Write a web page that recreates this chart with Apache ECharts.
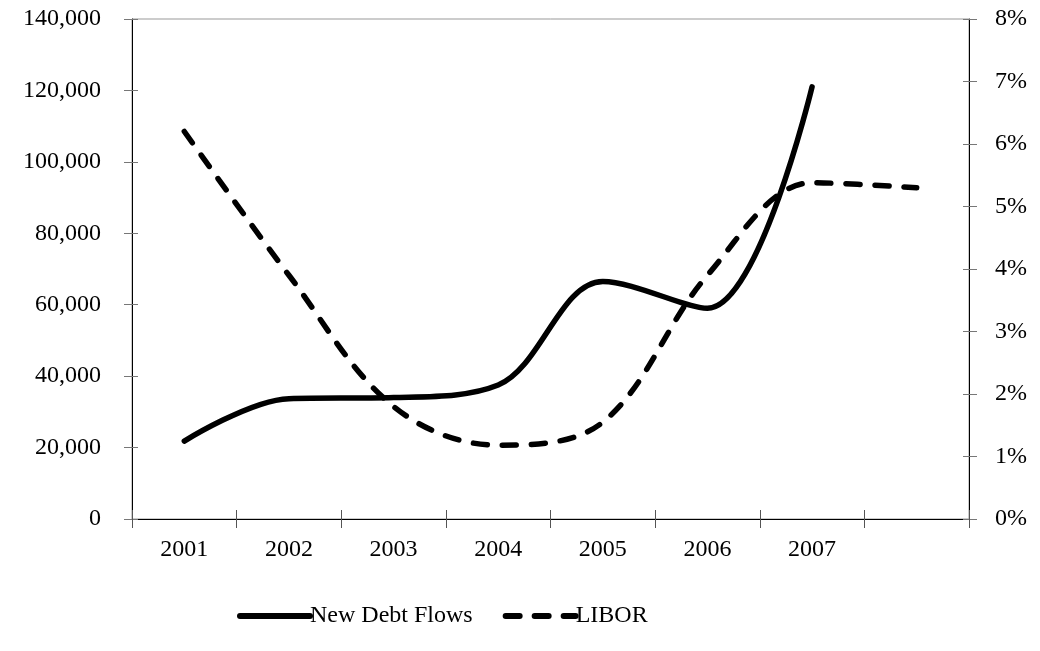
<!DOCTYPE html>
<html>
<head>
<meta charset="utf-8">
<script src="https://cdn.jsdelivr.net/npm/echarts@6/dist/echarts.min.js"></script>
<style>
html,body{margin:0;padding:0;background:#fff;}
#chart{width:1040px;height:651px;}
</style>
</head>
<body>
<div id="chart"></div>
<script>
var categories = ['2001', '2002', '2003', '2004', '2005', '2006', '2007', ''];
var newDebtFlows = [21800, 33700, 34000, 37500, 66500, 59000, 121000, null];
var libor = [6.2, 3.9, 1.8, 1.18, 1.55, 3.9, 5.38, 5.3];
var leftTicks = [0, 140000, 20000];
var rightTicks = [0, 8, 1];

var FONT = 'Liberation Serif';
var chart = echarts.init(document.getElementById('chart'), null, {renderer: 'canvas'});

function fmtThousands(v) {
  return String(v).replace(/\B(?=(\d{3})+(?!\d))/g, ',');
}

var axisLabelStyle = {color: '#000', fontFamily: FONT, fontSize: 24};

var option = {
  backgroundColor: '#fff',
  animation: false,
  grid: {
    left: 132, right: 71, top: 19, bottom: 132,
    show: true, borderColor: '#999', borderWidth: 1, backgroundColor: 'transparent'
  },
  legend: {
    left: 232, top: 599,
    itemWidth: 70, itemHeight: 14, itemGap: 30,
    itemStyle: {opacity: 0},
    lineStyle: {width: 6, cap: 'round'},
    textStyle: {color: '#000', fontFamily: FONT, fontSize: 24, padding: [0, 0, 0, -5]},
    data: ['New Debt Flows', 'LIBOR']
  },
  xAxis: [{
    type: 'category', data: categories, boundaryGap: true,
    axisLine: {show: true, lineStyle: {color: '#000', width: 1}},
    axisTick: {show: true, length: 9, lineStyle: {color: '#555'}},
    axisLabel: Object.assign({margin: 19, interval: 0}, axisLabelStyle),
    splitLine: {show: false}
  }, {
    type: 'category', data: categories, boundaryGap: true, position: 'bottom',
    axisLine: {show: false},
    axisTick: {show: true, inside: true, length: 9, lineStyle: {color: '#555'}},
    axisLabel: {show: false}, splitLine: {show: false}
  }],
  yAxis: [{
    type: 'value', min: leftTicks[0], max: leftTicks[1], interval: leftTicks[2], position: 'left',
    axisLine: {show: true, lineStyle: {color: '#000', width: 1}},
    axisTick: {show: true, length: 8, lineStyle: {color: '#777'}},
    axisLabel: Object.assign({margin: 31, formatter: fmtThousands}, axisLabelStyle),
    splitLine: {show: false}
  }, {
    type: 'value', min: rightTicks[0], max: rightTicks[1], interval: rightTicks[2], position: 'right',
    axisLine: {show: true, lineStyle: {color: '#000', width: 1}},
    axisTick: {show: true, length: 8, lineStyle: {color: '#777'}},
    axisLabel: Object.assign({margin: 26, formatter: function (v) { return v + '%'; }}, axisLabelStyle),
    splitLine: {show: false}
  }, {
    type: 'value', min: leftTicks[0], max: leftTicks[1], interval: leftTicks[2], position: 'left',
    axisLine: {show: false},
    axisTick: {show: true, inside: true, length: 6, lineStyle: {color: '#777'}},
    axisLabel: {show: false}, splitLine: {show: false}
  }, {
    type: 'value', min: rightTicks[0], max: rightTicks[1], interval: rightTicks[2], position: 'right',
    axisLine: {show: false},
    axisTick: {show: true, inside: true, length: 6, lineStyle: {color: '#777'}},
    axisLabel: {show: false}, splitLine: {show: false}
  }],
  series: [{
    name: 'New Debt Flows', type: 'line', xAxisIndex: 0, yAxisIndex: 0,
    data: newDebtFlows, smooth: 0.35, symbol: 'none', showSymbol: false,
    lineStyle: {color: '#000', width: 5.5, cap: 'round', join: 'round'},
    itemStyle: {color: '#000'}, z: 3
  }, {
    name: 'LIBOR', type: 'line', xAxisIndex: 0, yAxisIndex: 1,
    data: libor, smooth: 0.35, symbol: 'none', showSymbol: false,
    lineStyle: {color: '#000', width: 5.5, type: [14, 15], cap: 'round', join: 'round'},
    itemStyle: {color: '#000'}, z: 2
  }]
};
chart.setOption(option);
</script>
</body>
</html>
